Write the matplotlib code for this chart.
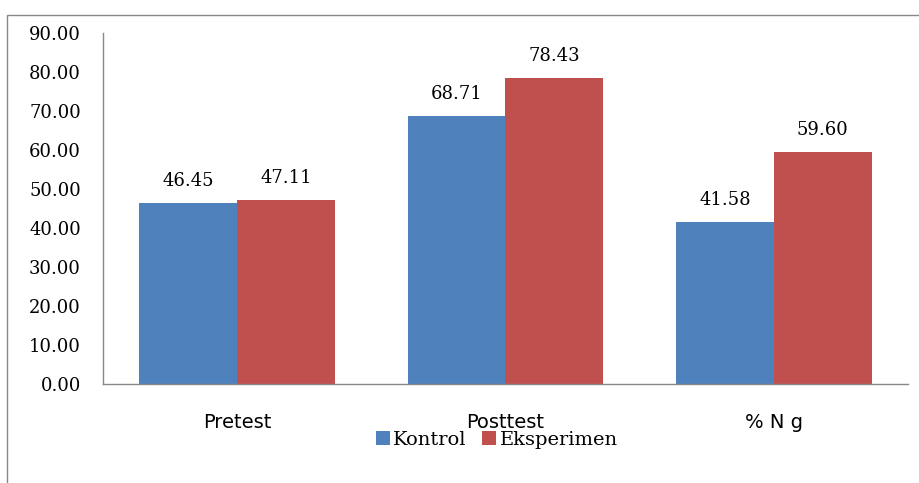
import numpy as np
import matplotlib.pyplot as plt
from matplotlib.patches import Rectangle

# data
categories = ['Pretest', 'Posttest', '% N g']
kontrol = [46.45, 68.71, 41.58]
eksperimen = [47.11, 78.43, 59.60]
series_names = ['Kontrol', 'Eksperimen']

blue = '#4F81BD'
red = '#C0504D'
serif = 'DejaVu Serif'

fig = plt.figure(figsize=(9.2, 4.83), dpi=100)

# outer chart frame (left and top edge)
fig.patches.append(Rectangle((7 / 920, -0.1), 1.2, 1 - 15 / 483 + 0.1,
                             transform=fig.transFigure, fill=False,
                             edgecolor='#888888', linewidth=1.0))

ax = fig.add_axes([103 / 920, 1 - 384 / 483, (908 - 103) / 920, (384 - 33) / 483])

x = np.arange(len(categories))
w = 0.365
b1 = ax.bar(x - w / 2, kontrol, w, color=blue, label=series_names[0])
b2 = ax.bar(x + w / 2, eksperimen, w, color=red, label=series_names[1])

for bars, vals in ((b1, kontrol), (b2, eksperimen)):
    for rect, v in zip(bars, vals):
        ax.text(rect.get_x() + rect.get_width() / 2, v + 3.3, f'{v:.2f}',
                ha='center', va='bottom', fontsize=13, family=serif)

ax.set_xlim(-0.5, 2.5)
ax.set_ylim(0, 90)
ax.set_yticks(np.arange(0, 91, 10))
ax.set_yticklabels([f'{t:.2f}' for t in np.arange(0, 91, 10)],
                   family=serif, fontsize=13)
ax.set_xticks(x)
ax.set_xticklabels(categories, fontsize=14, family='DejaVu Sans')
ax.tick_params(axis='y', length=0, pad=16)
ax.tick_params(axis='x', length=0, pad=21)

for s in ('top', 'right'):
    ax.spines[s].set_visible(False)
for s in ('left', 'bottom'):
    ax.spines[s].set_color('#888888')
    ax.spines[s].set_linewidth(1.0)

fig.legend(handles=[b1, b2], loc='center', bbox_to_anchor=(497 / 920, 1 - 440 / 483),
           ncol=2, frameon=False, prop={'family': serif, 'size': 14},
           handlelength=0.7, handleheight=0.7, handletextpad=0.2,
           columnspacing=0.8, borderpad=0)

fig.savefig('out.png', dpi=100)
